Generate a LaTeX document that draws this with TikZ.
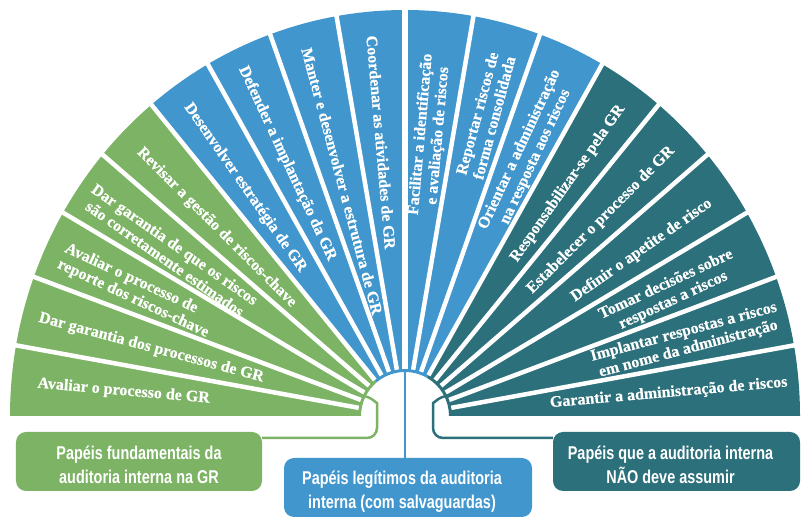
\documentclass[tikz,border=0pt]{standalone}
\usepackage{fontspec}
\newfontfamily\segfont[BoldFeatures={FakeBold=0.4}]{Liberation Serif}
\newfontfamily\boxfont[FakeStretch=0.78]{Liberation Sans}
\usetikzlibrary{calc}
\definecolor{grn}{RGB}{124,179,100}
\definecolor{blu}{RGB}{66,150,206}
\definecolor{tea}{RGB}{43,112,122}
\tikzset{
  segtxt/.style={text=white, font=\segfont\bfseries\fontsize{16bp}{17.5bp}\selectfont, align=center, inner sep=0pt},
  rolebox/.style={rounded corners=10bp, inner sep=0pt},
  boxtxt/.style={text=white, font=\boxfont\bfseries\fontsize{18.5bp}{24bp}\selectfont, align=center, inner sep=0pt},
  gapline/.style={white, line width=4.5bp},
  conn/.style={line width=2.5bp, rounded corners=10bp},
}
\begin{document}
\begin{tikzpicture}[x=1bp,y=1bp]
\useasboundingbox (0,0) rectangle (810,525);
\coordinate (C) at (405,109);
% group sectors
\fill[grn] ([shift={(130:395 and 406)}]C) arc[start angle=130, end angle=180, x radius=395, y radius=406]
  -- ([shift={(180:44)}]C) arc[start angle=180, end angle=130, radius=44] -- cycle;
\fill[blu] ([shift={(60:395 and 406)}]C) arc[start angle=60, end angle=130, x radius=395, y radius=406]
  -- ([shift={(130:44)}]C) arc[start angle=130, end angle=60, radius=44] -- cycle;
\fill[tea] ([shift={(0:395 and 406)}]C) arc[start angle=0, end angle=60, x radius=395, y radius=406]
  -- ([shift={(60:44)}]C) arc[start angle=60, end angle=0, radius=44] -- cycle;
% gaps
\foreach \a in {10,20,...,80,100,110,...,170}
  \draw[gapline] ([shift={(\a:47)}]C) -- ([shift={(\a:400 and 412)}]C);
\draw[gapline, line width=5.5bp] ([shift={(90:47)}]C) -- ([shift={(90:400 and 412)}]C);
% texts (left half: read toward centre; right half: read outward)
\node[segtxt, rotate=-5,  anchor=west] (s1)  at ([shift={(175:369)}]C) {Avaliar o processo de GR};
\node[segtxt, rotate=-15, anchor=west] (s2)  at ([shift={(165:379)}]C) {Dar garantia dos processos de GR};
\node[segtxt, rotate=-25, align=left]  (s3)  at ([shift={(155:296)}]C) {Avaliar o processo de\\reporte dos riscos-chave};
\node[segtxt, rotate=-35] (s4)  at ([shift={(145:287)}]C) {Dar garantia de que os riscos\\são corretamente estimados};
\node[segtxt, rotate=-45, anchor=west] (s5)  at ([shift={(135:376)}]C) {Revisar a gestão de riscos-chave};
\node[segtxt, rotate=-55, anchor=west] (s6)  at ([shift={(125:380)}]C) {Desenvolver estratégia de GR};
\node[segtxt, rotate=-65, anchor=west] (s7)  at ([shift={(115:385)}]C) {Defender a implantação da GR};
\node[segtxt, rotate=-75, anchor=west] (s8)  at ([shift={(105:381)}]C) {Manter e desenvolver a estrutura de GR};
\node[segtxt, rotate=-85, anchor=west] (s9)  at ([shift={(95:382)}]C)  {Coordenar as atividades de GR};
\node[segtxt, rotate=85]  (s10) at ([shift={(85:282)}]C)  {Facilitar a identificação\\e avaliação de riscos};
\node[segtxt, rotate=75]  (s11) at ([shift={(75:311)}]C)  {Reportar riscos de\\forma consolidada};
\node[segtxt, rotate=65]  (s12) at ([shift={(65:290)}]C)  {Orientar a administração\\na resposta aos riscos};
\node[segtxt, rotate=55, anchor=east] (s13) at ([shift={(55:378)}]C)  {Responsabilizar-se pela GR};
\node[segtxt, rotate=45, anchor=east] (s14) at ([shift={(45:378)}]C)  {Estabelecer o processo de GR};
\node[segtxt, rotate=35, anchor=east] (s15) at ([shift={(35:373)}]C)  {Definir o apetite de risco};
\node[segtxt, rotate=25]  (s16) at ([shift={(25:292)}]C)  {Tomar decisões sobre\\respostas a riscos};
\node[segtxt, rotate=15]  (s17) at ([shift={(15:291)}]C)  {Implantar respostas a riscos\\em nome da administração};
\node[segtxt, rotate=5, anchor=east]   (s18) at ([shift={(5:384)}]C)   {Garantir a administração de riscos};
% boxes
\node[rolebox, fill=grn, minimum width=246bp, minimum height=59bp] (gbox) at (139,63.5) {};
\node[boxtxt] (gtxt) at ([yshift=-3bp]gbox.center) {Papéis fundamentais da\\auditoria interna na GR};
\node[rolebox, fill=blu, minimum width=248bp, minimum height=59bp] (bbox) at (408,37.5) {};
\node[boxtxt] (btxt) at ([xshift=-6bp,yshift=-4.5bp]bbox.center) {Papéis legítimos da auditoria\\interna (com salvaguardas)};
\node[rolebox, fill=tea, minimum width=247bp, minimum height=59bp] (tbox) at (676.5,63.5) {};
\node[boxtxt] (ttxt) at ([xshift=-6bp,yshift=-3bp]tbox.center) {Papéis que a auditoria interna\\NÃO deve assumir};
% connectors
\coordinate (gstart) at (362,129);
\coordinate (tstart) at (448,129);
\coordinate (bstart) at ([shift={(90:44)}]C);
\draw[conn, grn] (gstart) to[out=0,in=90] (377,112) -- (377,87) -- (gbox.east |- 0,87);
\draw[conn, tea] (tstart) to[out=180,in=90] (433,112) -- (433,87) -- (tbox.west |- 0,87);
\draw[line width=2.5bp, blu] (bstart) -- (bstart |- bbox.north);
\end{tikzpicture}
\end{document}
